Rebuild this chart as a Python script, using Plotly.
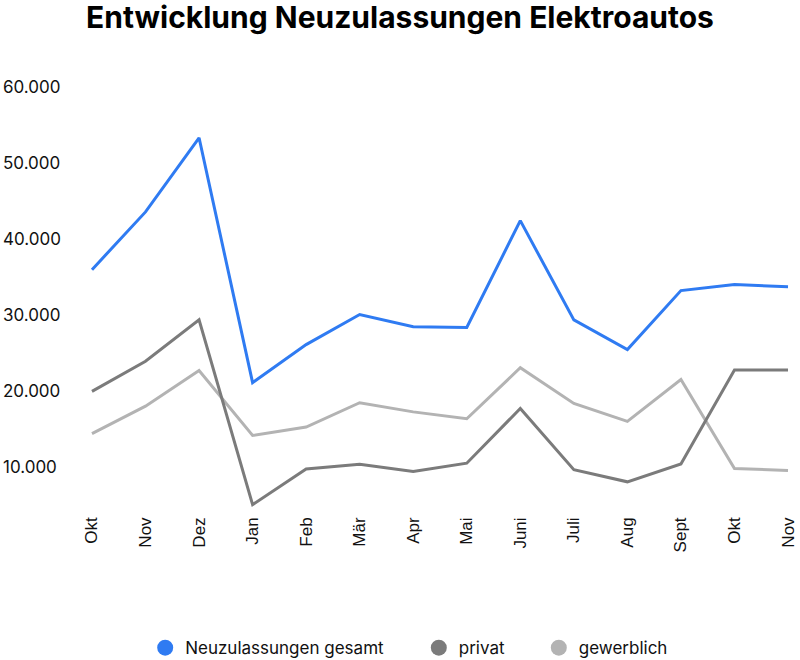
import plotly.graph_objects as go

# Monate Okt (Vorjahr) bis Nov
monate = ["Okt", "Nov", "Dez", "Jan", "Feb", "Mär", "Apr", "Mai",
          "Juni", "Juli", "Aug", "Sept", "Okt", "Nov"]
idx = list(range(len(monate)))

gesamt = [36000, 43600, 53350, 21150, 26150, 30100, 28500, 28400,
          42450, 29400, 25500, 33250, 34050, 33750]
privat = [20000, 23950, 29400, 5100, 9800, 10400, 9450, 10550,
          17750, 9700, 8100, 10450, 22800, 22800]
gewerblich = [14450, 18050, 22750, 14200, 15300, 18500, 17300, 16400,
              23100, 18400, 16050, 21550, 9850, 9600]

y_ticks = [10000, 20000, 30000, 40000, 50000, 60000]
y_labels = ["10.000", "20.000", "30.000", "40.000", "50.000", "60.000"]

BLUE = "#2f7bf2"
DARK = "#7b7b7b"
LIGHT = "#b3b3b3"

fig = go.Figure()

# lines (no legend entries, legend uses circles below)
fig.add_trace(go.Scatter(x=idx, y=gewerblich, mode="lines", line=dict(color=LIGHT, width=3), showlegend=False, hoverinfo="y"))
fig.add_trace(go.Scatter(x=idx, y=privat, mode="lines", line=dict(color=DARK, width=3), showlegend=False, hoverinfo="y"))
fig.add_trace(go.Scatter(x=idx, y=gesamt, mode="lines", line=dict(color=BLUE, width=3), showlegend=False, hoverinfo="y"))

# legend entries as round dots, one legend each so they can be placed like the original
legend_items = [("Neuzulassungen gesamt", BLUE, "legend", 0.1815),
                ("privat", DARK, "legend2", 0.5235),
                ("gewerblich", LIGHT, "legend3", 0.6735)]
for name, col, lg, _ in legend_items:
    fig.add_trace(go.Scatter(x=[None], y=[None], mode="markers", name=name, legend=lg,
                             marker=dict(color=col, size=18, symbol="circle")))

leg_style = dict(orientation="h", xanchor="left", yref="container", y=0.018, yanchor="middle",
                 font=dict(family="Inter", size=17, color="#111111"), bgcolor="rgba(0,0,0,0)")

fig.update_layout(
    width=800,
    height=660,
    autosize=False,
    paper_bgcolor="white",
    plot_bgcolor="white",
    margin=dict(l=0, r=0, t=72, b=147, pad=0),
    font=dict(family="Inter", size=17, color="#111111"),
    title={
        'text': "<b>Entwicklung Neuzulassungen Elektroautos</b>",
        'x': 0.5,
        'xanchor': 'center',
        'y': 0.973,
        'yanchor': 'middle',
        'font': {'family': "Inter", 'size': 30, 'color': '#000000'}},
    showlegend=True,
)
for name, col, lg, xpos in legend_items:
    fig.update_layout({lg: dict(x=xpos, **leg_style)})

fig.update_xaxes(
    range=[-1.718, 13.224],
    tickmode="array",
    tickvals=idx,
    ticktext=monate,
    tickangle=-90,
    tickfont=dict(family="Liberation Sans", size=17, color="#111111"),
    showgrid=False,
    zeroline=False,
    showline=False,
    ticks="",
)

fig.update_yaxes(
    range=[4000, 62000],
    tickmode="array",
    tickvals=y_ticks,
    ticktext=y_labels,
    ticklabelposition="inside",
    tickfont=dict(family="Inter", size=17, color="#111111"),
    showgrid=False,
    zeroline=False,
    showline=False,
    ticks="",
)

fig.write_html("out.html", config={"displayModeBar": False},
               post_script="document.body.style.margin='0';")
